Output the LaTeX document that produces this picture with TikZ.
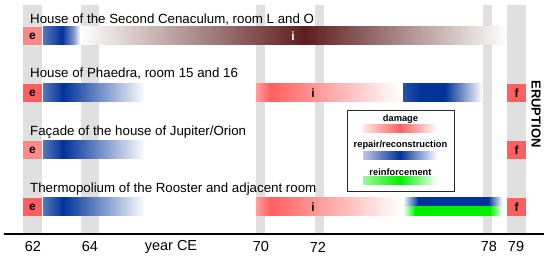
\documentclass[tikz,border=0pt]{standalone}
\usepackage{fontspec}
\setmainfont{Liberation Sans}
\definecolor{dred}{HTML}{FF5F5F}
\definecolor{lred}{HTML}{FF8888}
\definecolor{dblue}{HTML}{003399}
\definecolor{mblue}{HTML}{5A75BA}
\definecolor{brn}{HTML}{5E1E1E}
\definecolor{grn}{HTML}{00F000}
\definecolor{band}{HTML}{E0E0E0}
\newcommand\gseg[6]{\shade[left color=#5,right color=#6] (#1,#3) rectangle ({#2+0.4},#4);}
\tikzset{
  rowtitle/.style={anchor=base west,inner sep=0pt,font=\fontsize{13.3}{15}\selectfont},
  tick/.style={inner sep=0pt,font=\fontsize{14.5}{16}\selectfont},
  letter/.style={inner sep=0pt,font=\fontsize{12}{13}\selectfont\bfseries},
  legtext/.style={inner sep=0pt,font=\fontsize{9.3}{10}\selectfont\bfseries},
}
\begin{document}
\begin{tikzpicture}[x=1pt,y=-1pt]
\useasboundingbox (0,0) rectangle (550,259);
% grey year bands
\foreach \a/\b in {23/42,81/99,256/265,315/324,483/492,507/526}
  \fill[band] (\a,5) rectangle (\b,234);
% axis
\draw[line width=1.4pt] (4,234) -- (544,234);
\node[tick] (t62) at (33,247) {62};
\node[tick] (t64) at (90,247) {64};
\node[tick] (tyear) at (171,247) {year CE};
\node[tick] (t70) at (261,247) {70};
\node[tick] (t72) at (318,247) {72};
\node[tick] (t78) at (489,247) {78};
\node[tick] (t79) at (516,247) {79};
% ---------- Row 1
\node[rowtitle] (h1) at (30,23.5) {House of the Second Cenaculum, room L and O};
\fill[lred] (23,27) rectangle (42,45);
\node[letter] (e1) at (32.5,36) {e};
\gseg{43}{62}{27}{45}{mblue}{dblue}
\gseg{62}{74}{27}{45}{dblue}{mblue!70}
\gseg{74}{80}{27}{45}{mblue!70}{white}
\gseg{80}{305}{27}{45}{white}{brn}
\gseg{305}{506}{27}{45}{brn}{white}
\node[letter,text=white] (i1) at (293,36) {i};
% ---------- Row 2
\node[rowtitle] (h2) at (30,78) {House of Phaedra, room 15 and 16};
\fill[dred] (23,84) rectangle (42,102);
\node[letter] (e2) at (32.5,93) {e};
\gseg{43}{63}{84}{102}{mblue}{dblue}
\gseg{63}{145}{84}{102}{dblue}{white}
\gseg{256}{270}{84}{102}{dred!60}{dred}
\gseg{270}{400}{84}{102}{dred}{white}
\node[letter] (i2) at (313,93) {i};
\gseg{403}{420}{84}{102}{dblue!85}{dblue}
\gseg{420}{445}{84}{102}{dblue}{dblue}
\gseg{445}{482}{84}{102}{dblue}{white}
\fill[dred] (507,84) rectangle (526,102);
\node[letter] (f2) at (516.5,93) {f};
% ---------- Row 3
\node[rowtitle] (h3) at (30,135.7) {Façade of the house of Jupiter/Orion};
\fill[lred] (23,141) rectangle (42,159);
\node[letter] (e3) at (32.5,150) {e};
\gseg{43}{63}{141}{159}{mblue}{dblue}
\gseg{63}{145}{141}{159}{dblue}{white}
\fill[dred] (507,141) rectangle (526,159);
\node[letter] (f3) at (516.5,150) {f};
% ---------- Row 4
\node[rowtitle] (h4) at (30,193) {Thermopolium of the Rooster and adjacent room};
\fill[dred] (23,198) rectangle (42,216);
\node[letter] (e4) at (32.5,207) {e};
\gseg{43}{63}{198}{216}{mblue}{dblue}
\gseg{63}{145}{198}{216}{dblue}{white}
\gseg{256}{270}{198}{216}{dred!60}{dred}
\gseg{270}{400}{198}{216}{dred}{white}
\node[letter] (i4) at (313,207) {i};
\gseg{403}{418}{198}{207}{white}{dblue}
\gseg{418}{488}{198}{207}{dblue}{dblue}
\gseg{488}{502}{198}{207}{dblue}{white}
\gseg{403}{415}{207}{216}{white}{grn}
\gseg{415}{490}{207}{216}{grn}{grn}
\gseg{490}{502}{207}{216}{grn}{white}
\fill[dred] (507,198) rectangle (526,216);
\node[letter] (f4) at (516.5,207) {f};
% ---------- Legend
\draw[line width=0.8pt,black!85] (347,110) rectangle (454,191);
\node[legtext] (ldam) at (400.5,119) {damage};
\gseg{363}{400}{125}{133}{dred!15}{dred}
\gseg{400}{437}{125}{133}{dred}{white}
\node[legtext] (lrep) at (400.5,145) {repair/reconstruction};
\gseg{363}{400}{152}{160}{mblue!40}{dblue}
\gseg{400}{437}{152}{160}{dblue}{white}
\node[legtext] (lrei) at (400.5,172) {reinforcement};
\gseg{363}{400}{177}{185}{grn!40}{grn}
\gseg{400}{437}{177}{185}{grn}{white}
% ---------- Eruption
\node[inner sep=0pt,rotate=-90,font=\fontsize{13}{14}\selectfont\bfseries] (erupt) at (536,114) {ERUPTION};
\end{tikzpicture}
\end{document}
